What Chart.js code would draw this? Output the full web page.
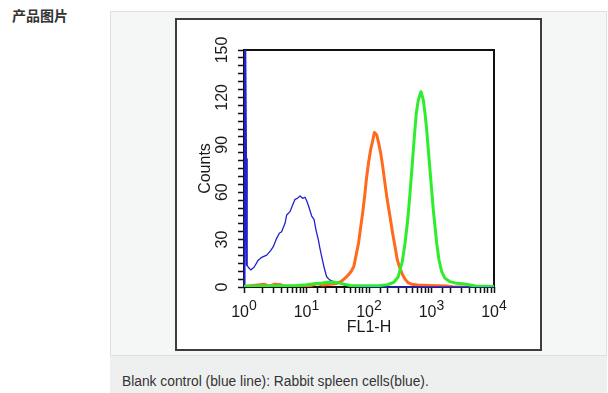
<!DOCTYPE html>
<html>
<head>
<meta charset="utf-8">
<title>产品图片</title>
<script src="https://cdn.jsdelivr.net/npm/chart.js@4.4.1/dist/chart.umd.min.js"></script>
<style>
    html, body { margin: 0; padding: 0; background: #fff; }
    body { width: 608px; height: 393px; position: relative; overflow: hidden; font-family: Arial, "Liberation Sans", sans-serif; }
    .label { position: absolute; left: 12px; top: 8px; font: bold 14px/14px "Noto Sans CJK SC", sans-serif; color: #333; }
    .panel { position: absolute; left: 110px; top: 11px; width: 497px; height: 345px; box-sizing: border-box;
             border: 1px solid #dfe0e0; background: #f5f6f6; }
    .caption { position: absolute; left: 110px; top: 356px; width: 497px; height: 40px; background: #eef0ef; }
    .caption span { position: absolute; left: 12px; top: 18px; font: 13.8px/16px Arial, "Liberation Sans", sans-serif; color: #333; }
    .figure { position: absolute; left: 175px; top: 18px; width: 367px; height: 333px; box-sizing: border-box;
              border: 2px solid #3c3c3c; background: #fff; }
    .figure canvas { display: block; }
</style>
</head>
<body>
<div class="label">产品图片</div>
<div class="panel"></div>
<div class="caption"><span>Blank control (blue line): Rabbit spleen cells(blue).</span></div>
<div class="figure"><canvas id="facsChart" width="363" height="329"></canvas></div>

<script>
// values (FL1-H fluorescence, counts)
// first channels of the blank control are off scale, giving the blue bar on the left edge
const blueX = [1.02, 1.04, 1.08, 1.11, 1.17, 1.28, 1.45, 1.69, 1.92, 2.31, 2.67, 2.94, 3.33, 3.67, 4.0, 4.53, 4.82, 5.44, 6.0, 6.55,
    7.13, 7.87, 8.69, 9.46, 10.07, 11.1, 12.1, 13.2, 14.2, 15.5, 16.4, 17.5, 19.1, 21, 23.5, 26.8, 30, 34, 42, 55, 80, 10000];
const blueY = [0, 170, 81, 14, 12.5, 10.8, 12.5, 17, 18.8, 20.2, 23, 25.5, 30.8, 34, 35, 40.3, 45.6, 47.7, 51.9, 55.5,
    56.1, 57.6, 56.1, 56.8, 54.6, 49.8, 44.9, 42.8, 36, 29.7, 24.5, 19.2, 12.5, 6.5, 4.5, 3.4, 3, 2.3, 1, 0.3, 0, 0];

const orangeX = [1, 1.8, 2.1, 2.5, 3.1, 3.7, 4.5, 8, 12, 15, 18, 24, 30, 36, 41, 46.6, 52, 57, 63, 68, 72.5, 79, 85, 90.5,
    98, 106, 115, 122, 133, 143, 154, 166, 180, 196, 217, 239, 261, 284, 313, 346, 377, 420, 480, 600, 900, 1300, 1750, 2200, 10000];
const orangeY = [0.3, 1.5, 1.8, 0.6, 1.8, 1.6, 0.5, 0.6, 1, 2.2, 1.2, 1.8, 2.2, 3.5, 5.5, 7.6, 10, 12.8, 21.3, 27.7, 36, 46.6, 57.2, 67.7,
    78.3, 86.7, 93, 97.8, 96.2, 90.9, 84.6, 76.1, 65.6, 55, 44.5, 34, 25.5, 17.1, 11.8, 7.6, 5, 2.8, 1.8, 1.2, 1, 0.8, 0.6, 0.2, 0];

const greenX = [1, 2, 4, 7, 10, 14, 18, 22, 27, 33, 40, 50, 70, 100, 150, 200, 250, 294, 341, 377, 416, 453, 493, 531, 571,
    615, 679, 739, 787, 838, 890, 946, 1006, 1069, 1138, 1211, 1318, 1455, 1644, 1977, 2530, 3436, 5000, 10000];
const greenY = [0.5, 0.6, 0.8, 1, 1.5, 2.2, 2.6, 3, 3.2, 2.6, 1.8, 1, 0.8, 0.8, 1, 1.5, 3, 6.5, 16, 27.7, 42.4, 59.3, 78.3, 95.1, 110,
    118.4, 123.6, 118.4, 110, 99.4, 86.7, 74, 61.4, 48.7, 38.2, 27.7, 17.1, 9.7, 5.5, 3.4, 2.3, 1.9, 0.6, 0.3];

const yTickLabels = [0, 30, 60, 90, 120, 150];
const xTickExponents = [0, 1, 2, 3, 4];

function toPoints(xs, ys) {
    return xs.map((x, i) => ({ x: x, y: ys[i] }));
}

// plot frame plus rotated y labels and 10^n x labels
const axisDecor = {
    id: 'axisDecor',
    beforeDatasetsDraw(chart) {
        const { ctx, chartArea: a } = chart;
        ctx.save();
        ctx.strokeStyle = '#111';
        ctx.lineWidth = 2;
        ctx.strokeRect(a.left, a.top, a.right - a.left, a.bottom - a.top);
        ctx.restore();
    },
    afterDraw(chart) {
        const ctx = chart.ctx;
        const xs = chart.scales.x;
        const ys = chart.scales.y;
        ctx.save();
        ctx.fillStyle = '#1a1a1a';

        ctx.font = '16px Arial, "Liberation Sans", sans-serif';
        ctx.textAlign = 'center';
        ctx.textBaseline = 'middle';
        yTickLabels.forEach(v => {
            ctx.save();
            ctx.translate(chart.chartArea.left - 21, ys.getPixelForValue(v));
            ctx.rotate(-Math.PI / 2);
            ctx.fillText(String(v), 0, 0);
            ctx.restore();
        });

        ctx.textAlign = 'left';
        ctx.textBaseline = 'alphabetic';
        const baseY = chart.chartArea.bottom + 30;
        xTickExponents.forEach(e => {
            const px = xs.getPixelForValue(Math.pow(10, e));
            ctx.font = '16px Arial, "Liberation Sans", sans-serif';
            const w1 = ctx.measureText('10').width;
            ctx.font = '14px Arial, "Liberation Sans", sans-serif';
            const w2 = ctx.measureText(String(e)).width;
            const start = px - (w1 + w2) / 2;
            ctx.font = '16px Arial, "Liberation Sans", sans-serif';
            ctx.fillText('10', start, baseY);
            ctx.font = '14px Arial, "Liberation Sans", sans-serif';
            ctx.fillText(String(e), start + w1, baseY - 7);
        });
        ctx.restore();
    }
};

const tickGrid = {
    display: true,
    drawOnChartArea: false,
    drawTicks: true,
    tickLength: 6,
    tickWidth: 1.5,
    color: '#111'
};

new Chart(document.getElementById('facsChart'), {
    type: 'line',
    data: {
        datasets: [
            { label: 'Green', data: toPoints(greenX, greenY), borderColor: '#2ded2d', borderWidth: 3 },
            { label: 'Blank control', data: toPoints(blueX, blueY), borderColor: '#2222cc', borderWidth: 1.3,
              segment: { borderWidth: c => (c.p0DataIndex < 3 ? 2 : 1.3) },
              clip: { left: 3, top: 0, right: 2, bottom: 2 } },
            { label: 'Orange', data: toPoints(orangeX, orangeY), borderColor: '#ff6a1c', borderWidth: 3 }
        ]
    },
    options: {
        responsive: false,
        devicePixelRatio: 1,
        animation: false,
        parsing: false,
        layout: { padding: { left: 0, top: 30, right: 46, bottom: 0 } },
        elements: {
            point: { radius: 0 },
            line: { tension: 0, borderJoinStyle: 'round', fill: false }
        },
        plugins: {
            legend: { display: false },
            tooltip: { enabled: false }
        },
        scales: {
            x: {
                type: 'logarithmic',
                min: 1,
                max: 10000,
                grid: tickGrid,
                border: { display: false },
                ticks: { display: false },
                title: {
                    display: true,
                    text: 'FL1-H',
                    color: '#1a1a1a',
                    font: { family: 'Arial, "Liberation Sans", sans-serif', size: 16 },
                    padding: { top: 0, bottom: 11.5 }
                },
                afterFit(scale) { scale.height = 62; }
            },
            y: {
                type: 'linear',
                min: 0,
                max: 150,
                grid: tickGrid,
                border: { display: false },
                ticks: { display: false, stepSize: 5 },
                title: {
                    display: true,
                    text: 'Counts',
                    color: '#1a1a1a',
                    font: { family: 'Arial, "Liberation Sans", sans-serif', size: 16 },
                    padding: { top: 18.5, bottom: 0 }
                },
                afterFit(scale) { scale.width = 67; }
            }
        }
    },
    plugins: [axisDecor]
});
</script>
</body>
</html>
